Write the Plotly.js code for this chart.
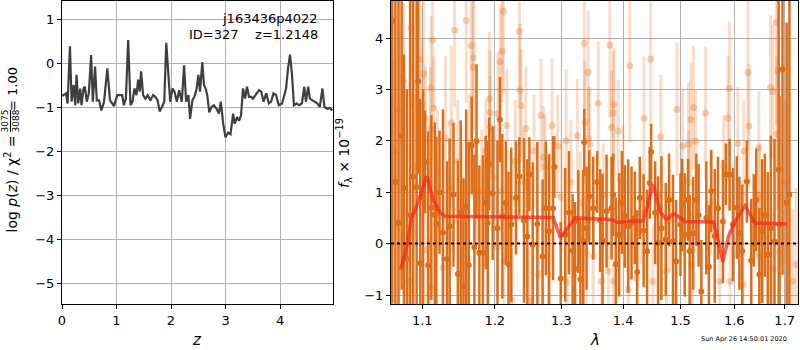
<!DOCTYPE html>
<html>
<head>
<meta charset="utf-8">
<script src="https://cdn.plot.ly/plotly-3.0.1.min.js"></script>
<style>html,body{margin:0;padding:0;background:#fff;}#chart{width:800px;height:350px;}</style>
</head>
<body>
<div id="chart"></div>
<script>
// ---------- Left panel: log p(z) ----------
const zGrid = [0.000,0.030,0.073,0.103,0.146,0.176,0.213,0.243,0.267,0.298,0.334,0.358,0.395,0.419,0.455,0.492,0.534,0.565,0.607,0.638,0.680,0.723,0.771,0.832,0.880,0.923,0.953,1.014,1.063,1.105,1.135,1.172,1.214,1.257,1.293,1.330,1.366,1.397,1.427,1.451,1.488,1.530,1.573,1.621,1.670,1.712,1.755,1.791,1.834,1.876,1.913,1.955,1.985,2.028,2.064,2.107,2.149,2.198,2.240,2.277,2.319,2.350,2.392,2.429,2.471,2.502,2.532,2.574,2.605,2.635,2.665,2.702,2.744,2.787,2.835,2.878,2.914,2.957,2.999,3.048,3.091,3.139,3.169,3.212,3.248,3.285,3.321,3.358,3.394,3.431,3.473,3.503,3.564,3.613,3.655,3.698,3.746,3.795,3.837,3.880,3.928,3.977,4.038,4.111,4.147,4.184,4.220,4.256,4.305,4.354,4.402,4.445,4.475,4.517,4.548,4.596,4.645,4.687,4.730,4.778,4.815,4.869,4.912,4.960];
const logPz = [-0.75,-0.73,-0.69,-0.92,0.38,-0.88,-0.50,-0.96,-0.27,-0.92,-0.58,-0.96,-0.58,-0.54,-0.88,-0.69,0.18,-0.88,-0.08,-0.85,-0.85,-1.08,-0.88,-0.12,-0.85,-0.92,-0.98,-0.73,-0.73,-0.73,-0.96,-0.81,0.52,-0.96,-0.88,-0.58,-0.73,-0.38,-0.65,-0.19,-0.73,-0.81,-0.73,-0.85,-0.73,-0.77,-0.85,-1.10,-1.00,-0.88,0.46,-0.35,-0.88,-0.58,-0.65,-0.88,-0.62,-0.88,-0.05,-0.88,-0.73,-1.27,-0.85,-0.77,-0.58,-0.27,-0.65,0.02,-0.50,-0.58,-0.73,-1.12,-1.00,-0.96,-1.04,-1.15,-0.88,-1.38,-1.69,-1.58,-1.62,-1.15,-1.38,-1.23,-1.31,-1.19,-0.58,-0.81,-0.54,-0.77,-0.77,-0.81,-0.69,-0.62,-0.65,-0.88,-0.69,-0.92,-0.88,-0.69,-0.73,-0.96,-0.92,-0.58,-0.12,0.19,-0.27,-0.96,-0.92,-0.96,-0.92,-0.54,-0.88,-0.54,-0.81,-0.85,-0.88,-0.92,-1.00,-0.58,-1.00,-1.04,-1.02,-1.08];
const leftXTicks = [0,1,2,3,4];
const leftYTicks = [-5,-4,-3,-2,-1,0,1];
const leftYText = ["\u22125","\u22124","\u22123","\u22122","\u22121","0","1"];

// ---------- Right panel: spectrum ----------
const darkWave = [1.0610,1.0650,1.0690,1.0730,1.0760,1.0800,1.0840,1.0880,1.0925,1.0945,1.0973,1.1010,1.1036,1.1079,1.1120,1.1166,1.1187,1.1230,1.1276,1.1331,1.1367,1.1420,1.1480,1.1520,1.1558,1.1595,1.1631,1.1673,1.1710,1.1740,1.1780,1.1830,1.1870,1.1900,1.1920,1.1970,1.2040,1.2075,1.2110,1.2160,1.2200,1.2240,1.2310,1.2360,1.2430,1.2480,1.2510,1.2560,1.2630,1.2710,1.2760,1.2810,1.2870,1.2890,1.2990,1.3060,
1.3120,1.3177,1.3215,1.3266,1.3300,1.3346,1.3362,1.3400,1.3443,1.3507,1.3572,1.3620,1.3660,1.3725,1.3808,1.3835,1.3880,1.3935,1.3980,1.4030,1.4086,1.4143,1.4199,1.4240,1.4284,1.4350,1.4410,1.4456,1.4480,1.4550,1.4601,1.4660,1.4736,1.4795,1.4866,1.4920,1.4999,1.5030,1.5076,1.5136,1.5166,1.5230,1.5288,1.5330,1.5380,1.5472,1.5520,1.5565,1.5630,1.5690,1.5784,1.5840,1.5911,1.5975,1.6050,1.6100,1.6155,1.6245,1.6330,1.6380,1.6428,1.6490,1.6546,1.6600,1.6658,1.6720,1.6793,1.6878,1.6893,1.6955,1.7040,1.7097];
const darkFlux = [4.33,1.20,0.40,2.10,1.08,-0.30,0.55,1.30,1.10,3.16,-0.38,0.90,1.59,-0.42,0.70,0.56,0.38,1.00,0.21,-0.30,0.34,0.95,-0.59,0.60,-0.83,0.71,-0.42,1.91,-0.07,1.99,-0.18,-0.18,0.80,0.40,1.55,0.98,0.30,2.41,0.53,0.79,-0.40,0.37,0.89,1.31,0.45,0.14,1.35,-0.02,0.38,-0.25,0.69,0.24,0.69,1.49,-0.68,0.17,
0.60,-0.14,-0.49,0.43,-0.70,0.04,1.97,0.30,0.92,0.69,1.20,0.45,0.06,0.63,0.69,0.95,-0.40,0.17,0.80,0.53,0.34,0.40,0.50,-0.55,0.89,0.25,-0.15,1.18,1.78,0.60,0.01,0.30,0.08,0.85,0.04,-0.35,0.37,0.75,0.17,0.85,-0.15,0.20,0.85,0.55,-0.93,0.50,-0.45,1.02,0.15,0.69,0.43,1.35,1.34,0.37,0.70,0.20,-0.15,1.21,-0.33,0.45,0.85,-0.60,0.24,0.55,-0.21,0.30,0.04,1.44,0.37,3.39,0.80,0.95];
const darkErr = [5.5,4.0,4.5,3.0,2.6,3.3,4.2,3.5,3.8,1.8,3.2,2.1,1.0,2.6,1.8,1.8,1.7,1.2,2.4,1.9,1.7,1.4,2.2,1.8,2.1,1.9,2.4,0.95,1.8,1.5,1.7,1.9,1.3,1.6,0.9,1.3,1.7,0.83,1.6,1.2,1.8,1.5,1.1,0.76,1.6,1.5,0.72,1.6,1.6,1.5,1.3,1.5,1.4,0.6,1.1,1.3,
1.2,1.1,1.3,1.0,1.1,1.4,0.65,1.2,0.9,1.0,0.6,1.0,1.3,1.1,1.0,0.8,1.3,1.2,1.0,1.0,1.3,1.1,0.9,1.2,0.8,1.1,1.2,0.7,0.55,1.0,1.3,1.4,1.1,0.9,1.3,1.2,1.0,0.9,1.2,0.8,1.1,1.1,0.9,1.0,1.0,1.1,1.2,0.8,1.3,1.0,1.2,0.6,0.7,1.1,1.0,1.1,1.3,0.8,1.2,0.9,1.0,1.3,1.4,1.2,1.6,1.8,2.0,3.5,2.5,4.0,3.5,4.5];

const lightWave = [1.0640,1.0700,1.0757,1.0822,1.0857,1.0900,1.0966,1.0998,1.1019,1.1041,1.1050,1.1107,1.1110,1.1116,1.1138,1.1151,1.1200,1.1276,1.1308,1.1376,1.1390,1.1435,1.1480,1.1536,1.1596,1.1640,1.1666,1.1689,1.1698,1.1720,1.1745,1.1815,1.1870,1.1924,1.1930,1.1934,1.2000,1.2032,1.2046,1.2078,1.2090,1.2107,1.2126,1.2135,1.2176,1.2245,1.2300,1.2361,1.2370,1.2386,1.2420,1.2456,1.2520,1.2580,1.2646,1.2686,1.2722,1.2747,1.2798,1.2855,1.2944,1.3000,1.3075,1.3086,1.3150,1.3251,1.3300,1.3362,1.3373,1.3380,1.3426,1.3430,1.3453,1.3507,1.3588,1.3643,1.3670,1.3753,1.3780,1.3808,1.3835,1.3840,1.3846,1.3918,1.4000,1.4086,1.4114,1.4227,1.4300,1.4358,1.4473,1.4510,1.4648,1.4748,1.4807,1.4937,1.5040,1.5145,1.5150,1.5187,1.5190,1.5216,1.5233,1.5276,1.5459,1.5550,1.5721,1.5800,1.5878,1.5911,1.5920,1.6071,1.6168,1.6188,1.6266,1.6285,1.6480,1.6493,1.6500,1.6712,1.6759,1.6765,1.6828,1.6840,1.6860,1.6893,1.7000,1.7168,1.7235];
const lightFlux = [1.80,2.60,3.18,-0.73,4.20,1.50,3.58,2.70,3.30,2.44,-0.12,2.24,-0.86,3.03,3.96,2.64,1.40,-0.47,2.05,1.08,2.35,4.15,1.60,0.66,4.34,1.90,3.85,3.43,3.62,0.95,1.05,1.02,1.80,2.82,2.26,2.55,1.30,-0.05,2.53,3.54,1.02,3.74,4.52,-0.34,2.30,-1.09,1.60,4.13,2.98,2.68,1.21,2.24,-1.12,1.80,-0.60,2.49,1.68,1.50,-0.60,2.30,1.90,0.90,2.00,-0.76,1.20,2.10,0.80,3.90,2.36,-0.18,3.33,2.05,1.94,-0.25,2.73,-0.73,0.95,-0.54,3.86,2.26,2.54,-0.73,2.70,2.19,1.20,-0.89,3.46,-0.67,0.60,2.44,3.59,-0.73,2.08,-0.54,0.45,2.61,1.90,1.94,1.21,2.41,-0.41,-0.12,2.65,1.99,2.54,0.80,-0.73,1.50,2.44,3.02,-0.73,1.95,-0.80,1.80,3.33,2.29,1.86,-0.25,0.95,3.04,2.96,-0.50,4.30,2.13,3.36,-0.18,1.20,-0.73,-0.41];
const lightErr = [1.8,1.6,1.5,1.2,1.6,1.4,1.2,1.3,1.5,1.0,1.1,1.2,1.0,1.4,1.3,1.0,1.2,1.1,1.6,1.2,1.5,1.5,1.2,1.3,1.6,1.0,1.2,1.3,1.4,1.1,1.0,1.2,1.0,1.3,1.0,1.2,1.0,1.0,1.2,1.1,1.0,1.0,1.6,1.1,1.1,1.0,1.2,1.4,1.3,1.1,1.0,1.2,1.0,1.1,1.0,1.1,1.0,1.0,1.1,1.3,1.0,1.1,1.4,1.0,1.2,1.1,1.0,1.4,1.2,1.1,1.2,1.0,1.1,1.2,1.2,1.1,1.0,1.0,1.4,1.1,1.2,1.0,1.1,1.0,1.1,1.0,1.5,1.1,1.0,1.2,1.3,1.1,1.2,1.1,1.0,1.3,1.1,1.2,1.0,1.1,1.0,1.1,1.2,1.0,1.3,1.0,1.1,1.0,1.2,1.3,1.0,1.1,1.0,1.0,1.5,1.2,1.1,1.2,1.0,1.4,1.3,1.1,2.0,1.5,1.8,1.4,1.6,1.4,1.5];

const modelWave = [1.0718,1.0796,1.0860,1.0916,1.1059,1.1147,1.1237,1.1304,1.2873,1.2983,1.3036,1.3087,1.3139,1.3215,1.3785,1.3920,1.4115,1.4342,1.4518,1.4636,1.4742,1.4872,1.4962,1.5083,1.5606,1.5700,1.5783,1.5890,1.6015,1.6208,1.6404,1.7040];
const modelFlux = [-0.50,-0.05,0.50,0.69,1.31,0.85,0.60,0.53,0.51,0.12,0.20,0.30,0.37,0.50,0.47,0.41,0.44,0.44,1.15,0.63,0.47,0.58,0.53,0.43,0.42,0.04,-0.36,0.14,0.43,0.74,0.40,0.38];

const rightXTicks = [1.1,1.2,1.3,1.4,1.5,1.6,1.7];
const rightYTicks = [-1,0,1,2,3,4];
const rightYText = ["\u22121","0","1","2","3","4"];

const FONT = "DejaVu Sans, sans-serif";
const darkColor = "#de6d18";

const traces = [
  {x: zGrid, y: logPz, xaxis: "x", yaxis: "y", mode: "lines",
   line: {color: "#3f3f3f", width: 2.2}, hoverinfo: "skip"},
  {x: lightWave, y: lightFlux, xaxis: "x2", yaxis: "y2", mode: "markers",
   marker: {color: "rgba(228,120,45,0.35)", size: 7},
   error_y: {type: "data", array: lightErr, visible: true, color: "rgba(228,120,45,0.25)", thickness: 3, width: 0},
   hoverinfo: "skip"},
  {x: darkWave, y: darkFlux, xaxis: "x2", yaxis: "y2", mode: "markers",
   marker: {color: darkColor, size: 6},
   error_y: {type: "data", array: darkErr, visible: true, color: darkColor, thickness: 2.5, width: 0},
   hoverinfo: "skip"},
  {x: modelWave, y: modelFlux, xaxis: "x2", yaxis: "y2", mode: "lines",
   line: {color: "rgba(255,35,25,0.72)", width: 3.5}, hoverinfo: "skip"}
];

const axisCommon = {
  showgrid: true, gridcolor: "#b0b0b0", gridwidth: 1,
  showline: true, linecolor: "#000", linewidth: 1, mirror: true,
  ticks: "outside", ticklen: 4, tickcolor: "#000", tickwidth: 1,
  zeroline: false, tickfont: {family: FONT, size: 13, color: "#000"},
  fixedrange: true
};

const yL = (px) => 1 - px / 350;
const xL = (px) => px / 800;

const layout = {
  width: 800, height: 350,
  margin: {l: 0, r: 0, t: 0, b: 0},
  paper_bgcolor: "#fff", plot_bgcolor: "#fff",
  showlegend: false,
  font: {family: FONT, color: "#000"},
  xaxis: Object.assign({}, axisCommon, {domain: [xL(62), xL(333)], range: [0, 4.972], tickvals: leftXTicks, anchor: "y"}),
  yaxis: Object.assign({}, axisCommon, {domain: [yL(304), yL(1)], range: [-5.477, 1.409], tickvals: leftYTicks, ticktext: leftYText, anchor: "x"}),
  xaxis2: Object.assign({}, axisCommon, {type: "log", domain: [xL(391), xL(798)], range: [0.02506, 0.23739], tickvals: rightXTicks, ticktext: rightXTicks.map(v => v.toFixed(1)), anchor: "y2"}),
  yaxis2: Object.assign({}, axisCommon, {domain: [yL(304), yL(1)], range: [-1.175, 4.72], tickvals: rightYTicks, ticktext: rightYText, anchor: "x2"}),
  shapes: [
    {type: "line", xref: "x2 domain", yref: "y2", x0: 0, x1: 1, y0: 0, y1: 0,
     line: {color: "#000", width: 2, dash: "dot"}},
    {type: "line", xref: "paper", yref: "paper", x0: xL(10.5), x1: xL(10.5), y0: yL(110), y1: yL(132),
     line: {color: "#000", width: 1}}
  ],
  annotations: [
    {text: "j163436p4022", xref: "paper", yref: "paper", x: xL(320), y: yL(19), xanchor: "right", yanchor: "middle", showarrow: false, font: {size: 13}},
    {text: "ID=327\u00a0\u00a0\u00a0\u00a0z=1.2148", xref: "paper", yref: "paper", x: xL(320), y: yL(35), xanchor: "right", yanchor: "middle", showarrow: false, font: {size: 13}},
    {text: "=\u00a01.00", xref: "paper", yref: "paper", x: xL(12), y: yL(65), xanchor: "center", yanchor: "top", textangle: -90, showarrow: false, font: {size: 13}},
    {text: "3075<br>3088", xref: "paper", yref: "paper", x: xL(10.5), y: yL(121), xanchor: "center", yanchor: "middle", textangle: -90, showarrow: false, font: {size: 9}},
    {text: "log <i>p</i>(<i>z</i>) / χ<sup>2</sup> =", xref: "paper", yref: "paper", x: xL(12), y: yL(134), xanchor: "center", yanchor: "top", textangle: -90, showarrow: false, font: {size: 14}},
    {text: "<i>f</i><sub>λ</sub> × 10<sup>−19</sup>", xref: "paper", yref: "paper", x: xL(344), y: yL(153), xanchor: "center", yanchor: "middle", textangle: -90, showarrow: false, font: {size: 14}},
    {text: "<i>z</i>", xref: "paper", yref: "paper", x: xL(197), y: yL(340), xanchor: "center", yanchor: "middle", showarrow: false, font: {size: 15}},
    {text: "<i>λ</i>", xref: "paper", yref: "paper", x: xL(595), y: yL(340), xanchor: "center", yanchor: "middle", showarrow: false, font: {size: 15}},
    {text: "Sun Apr 26 14:50:01 2020", xref: "paper", yref: "paper", x: xL(789), y: yL(339), xanchor: "right", yanchor: "middle", showarrow: false, font: {size: 6.5}}
  ]
};

Plotly.newPlot("chart", traces, layout, {staticPlot: true, displayModeBar: false});
</script>
</body>
</html>
